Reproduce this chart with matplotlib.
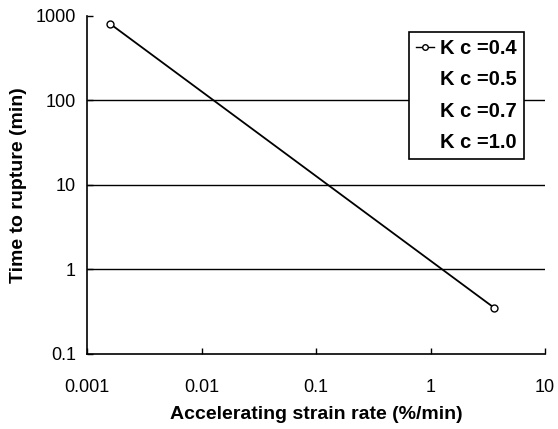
import matplotlib
matplotlib.use("Agg")
import matplotlib.pyplot as plt
from matplotlib.lines import Line2D
from matplotlib.ticker import FixedLocator, NullLocator

plt.rcParams['font.family'] = ['Liberation Sans', 'DejaVu Sans']

strain_rate = [0.0016, 3.6]
time_rupture = [800, 0.35]
legend_labels = ["K c =0.4", "K c =0.5", "K c =0.7", "K c =1.0"]
xticks = [0.001, 0.01, 0.1, 1, 10]
xticklabels = ["0.001", "0.01", "0.1", "1", "10"]
yticks = [0.1, 1, 10, 100, 1000]
yticklabels = ["0.1", "1", "10", "100", "1000"]

fig = plt.figure(figsize=(5.58, 4.29), dpi=100)
ax = fig.add_axes([0.156, 0.175, 0.821, 0.788])
ax.set_xscale('log')
ax.set_yscale('log')
ax.set_xlim(0.001, 10)
ax.set_ylim(0.1, 1000)

for y in yticks[1:4]:
    ax.axhline(y, color='black', lw=1.0, zorder=1)

ax.plot(strain_rate, time_rupture, color='black', lw=1.3, marker='o',
        markersize=5, markerfacecolor='white', markeredgecolor='black', zorder=3)

ax.spines['top'].set_visible(False)
ax.spines['right'].set_visible(False)
ax.spines['left'].set_linewidth(1.2)
ax.spines['bottom'].set_linewidth(1.2)

ax.xaxis.set_major_locator(FixedLocator(xticks))
ax.set_xticklabels(xticklabels)
ax.yaxis.set_major_locator(FixedLocator(yticks))
ax.set_yticklabels(yticklabels)
ax.xaxis.set_minor_locator(NullLocator())
ax.yaxis.set_minor_locator(NullLocator())
ax.tick_params(axis='both', direction='in', length=4, width=1, labelsize=13)
ax.tick_params(axis='x', pad=18)
ax.tick_params(axis='y', pad=8)

ax.set_xlabel("Accelerating strain rate (%/min)", fontsize=14, fontweight='bold', labelpad=7)
ax.set_ylabel("Time to rupture (min)", fontsize=14, fontweight='bold', labelpad=6)

handles = [Line2D([0], [0], color='black', lw=1, marker='o', markersize=4,
                  markerfacecolor='white')]
for _ in legend_labels[1:]:
    handles.append(Line2D([0], [0], color='none'))
leg = ax.legend(handles, legend_labels, loc='upper right', bbox_to_anchor=(0.954, 0.953),
                prop={'weight': 'bold', 'size': 14.5}, frameon=True, fancybox=False,
                edgecolor='black', framealpha=1, handlelength=0.9, handletextpad=0.3,
                labelspacing=0.62, borderpad=0.35, borderaxespad=0)
leg.get_frame().set_linewidth(1.2)
leg.set_zorder(5)

fig.savefig("out.png", dpi=100, facecolor='white')
